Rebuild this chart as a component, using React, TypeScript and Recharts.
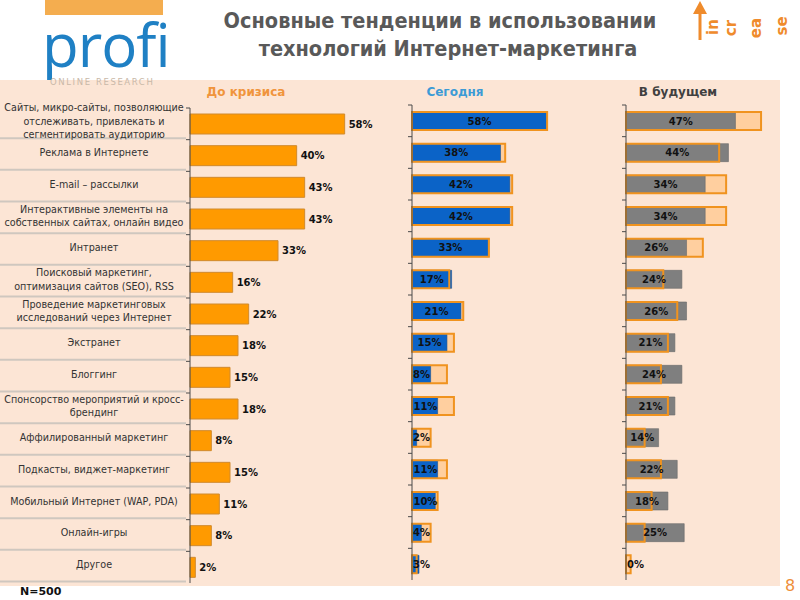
import React from "react";
import { BarChart, Bar, XAxis, YAxis, LabelList } from "recharts";

// Rows, top to bottom
const categories = [
  "Сайты, микро-сайты, позволяющие\nотслеживать, привлекать и\nсегментировать аудиторию",
  "Реклама в Интернете",
  "E-mail – рассылки",
  "Интерактивные элементы на\nсобственных сайтах, онлайн видео",
  "Интранет",
  "Поисковый маркетинг,\nоптимизация сайтов (SEO), RSS",
  "Проведение маркетинговых\nисследований через Интернет",
  "Экстранет",
  "Блоггинг",
  "Спонсорство мероприятий и кросс-\nбрендинг",
  "Аффилированный маркетинг",
  "Подкасты, виджет-маркетинг",
  "Мобильный Интернет (WAP, PDA)",
  "Онлайн-игры",
  "Другое",
];

// % of respondents
const beforeCrisis = [58, 40, 43, 43, 33, 16, 22, 18, 15, 18, 8, 15, 11, 8, 2];
const today = [58, 38, 42, 42, 33, 17, 21, 15, 8, 11, 2, 11, 10, 4, 3];
const future = [47, 44, 34, 34, 26, 24, 26, 21, 24, 21, 14, 22, 18, 25, 0];

const panelTitles = ["До кризиса", "Сегодня", "В будущем"];
const titleLines = [
  "Основные тенденции в использовании",
  "технологий Интернет-маркетинга",
];

const data = categories.map((name, i) => ({
  name,
  before: beforeCrisis[i],
  today: today[i],
  future: future[i],
}));

const FONT = "'DejaVu Sans', Verdana, sans-serif";
const TITLE_FONT = "'DejaVu Sans Condensed', 'DejaVu Sans', sans-serif";
const PEACH = "#fce5d5";
const ORANGE = "#ff9a00";
const OUTLINE = "#f0931f";
const PALE = "#ffcf9f";
const BLUE = "#0b63c7";
const GRAY = "#7f7f7f";
const AXIS = "#4a4a4a";

const H = 600;
const TOP1 = 108;
const BOTTOM1 = 17;
const TOP2 = 105;
const BOTTOM2 = 20;
const BAND = (H - TOP1 - BOTTOM1) / categories.length;

const pct = (v: number) => `${v}%`;

// left column: wrapped label + row separator + small tick on the axis
const CategoryTick = (props: any) => {
  const { y, payload } = props;
  const lines = String(payload.value).split("\n");
  const lh = 13.5;
  const y0 = y - 2.5 - ((lines.length - 1) * lh) / 2;
  return (
    <g>
      <line
        x1={0}
        x2={186}
        y1={y + BAND / 2 - 1.5}
        y2={y + BAND / 2 - 1.5}
        stroke="#cfc7bf"
        strokeWidth={2}
      />
      <line x1={186} x2={190} y1={y - BAND / 2} y2={y - BAND / 2} stroke={AXIS} />
      <text textAnchor="middle" fontFamily={FONT} fontSize={9.6} fill="#333">
        {lines.map((l, i) => (
          <tspan key={i} x={94} y={y0 + i * lh} dy="0.35em">
            {l}
          </tspan>
        ))}
      </text>
    </g>
  );
};

const BoundaryTick = (props: any) => {
  const { y } = props;
  return (
    <line x1={8} x2={12} y1={y - BAND / 2} y2={y - BAND / 2} stroke={AXIS} />
  );
};

// centred in the bar, or pushed to the left edge when it doesn't fit
const valueText = (x: number, w: number, y: number, value: number) => {
  const text = pct(value);
  const tw = text.length * 7.6;
  const cx = w > tw + 4 ? x + w / 2 : x + 2 + tw / 2;
  return (
    <text
      x={cx}
      y={y}
      dy="0.36em"
      textAnchor="middle"
      fontFamily={FONT}
      fontSize={10}
      fontWeight="bold"
      fill="#111"
    >
      {text}
    </text>
  );
};

const InsideLabel = (props: any) => {
  const { x, y, width, height, value } = props;
  return valueText(x, width, y + height / 2, value);
};

// attached to the pre-crisis outline bar so that a 0% forecast still gets its label;
// the forecast bar's length is taken from the same scale (px per % of that bar)
const FutureLabel = (props: any) => {
  const { x, y, width, height, value, index } = props;
  const base = beforeCrisis[index];
  const w = base ? (width * value) / base : 0;
  return valueText(x, w, y + height / 2, value);
};

function Decor() {
  return (
    <svg width={800} height={600} style={{ position: "absolute", left: 0, top: 0 }}>
      <rect x={45} y={0} width={118} height={15} fill="#f4ad4f" />
      <text
        x={42}
        y={67}
        fontFamily="'Open Sans', sans-serif"
        fontSize={60}
        letterSpacing={-1}
        fill="#1f80c4"
      >
        profi
      </text>
      <rect x={0} y={80} width={780} height={506} fill={PEACH} />
      <text
        x={50}
        y={85}
        fontFamily={FONT}
        fontSize={8.5}
        letterSpacing={1.6}
        fill="#c9b8a8"
      >
        ONLINE RESEARCH
      </text>

      <text
        x={440}
        y={28}
        textAnchor="middle"
        fontFamily={TITLE_FONT}
        fontSize={21.5}
        fontWeight="bold"
        fill="#595959"
      >
        {titleLines[0]}
      </text>
      <text
        x={448}
        y={56}
        textAnchor="middle"
        fontFamily={TITLE_FONT}
        fontSize={21.5}
        fontWeight="bold"
        fill="#595959"
      >
        {titleLines[1]}
      </text>

      {/* increase arrow */}
      <line x1={700} x2={700} y1={40} y2={10} stroke="#ef8b2c" strokeWidth={3} />
      <polygon points="693,14 700,1 707,14" fill="#ef8b2c" />
      {[
        ["in", 713, 27],
        ["cr", 731, 28],
        ["ea", 756, 28],
        ["se", 782, 26],
      ].map(([t, x, y]) => (
        <text
          key={t as string}
          transform={`translate(${x},${y}) rotate(-90)`}
          textAnchor="middle"
          dy="0.35em"
          fontFamily={FONT}
          fontSize={15}
          fontWeight="bold"
          fill="#ef8b2c"
        >
          {t}
        </text>
      ))}

      <text x={246} y={96} textAnchor="middle" fontFamily={FONT} fontSize={12} fontWeight="bold" fill="#f0943c">
        {panelTitles[0]}
      </text>
      <text x={455} y={96} textAnchor="middle" fontFamily={FONT} fontSize={12} fontWeight="bold" fill="#3c9bd6">
        {panelTitles[1]}
      </text>
      <text x={678} y={96} textAnchor="middle" fontFamily={FONT} fontSize={12} fontWeight="bold" fill="#404040">
        {panelTitles[2]}
      </text>

      <text x={20} y={595} fontFamily={FONT} fontSize={11} fontWeight="bold" fill="#111">
        N=500
      </text>
      <text x={790} y={591} textAnchor="middle" fontFamily={FONT} fontSize={16} fill="#ee8f3a">
        8
      </text>
    </svg>
  );
}

export default function App() {
  return (
    <div
      style={{
        position: "absolute",
        left: 0,
        top: 0,
        width: 800,
        height: 600,
        background: "#fff",
        overflow: "hidden",
      }}
    >
      <Decor />

      {/* До кризиса */}
      <div style={{ position: "absolute", left: 0, top: 0 }}>
        <BarChart
          width={390}
          height={H}
          data={data}
          layout="vertical"
          margin={{ top: TOP1, bottom: BOTTOM1, left: 0, right: 0 }}
          barSize={20}
        >
          <XAxis type="number" domain={[0, 75]} hide />
          <YAxis
            type="category"
            dataKey="name"
            width={190}
            interval={0}
            tickLine={false}
            axisLine={{ stroke: AXIS }}
            tick={(p: any) => <CategoryTick {...p} />}
          />
          <Bar
            dataKey="before"
            fill={ORANGE}
            stroke="#d08a2e"
            strokeWidth={1}
            isAnimationActive={false}
          >
            <LabelList
              dataKey="before"
              position="right"
              offset={4}
              formatter={(v: any) => pct(v)}
              style={{ fontFamily: FONT, fontSize: 10, fontWeight: "bold", fill: "#111" }}
            />
          </Bar>
        </BarChart>
      </div>

      {/* Сегодня */}
      <div style={{ position: "absolute", left: 400, top: 0 }}>
        <BarChart
          width={210}
          height={H}
          data={data}
          layout="vertical"
          margin={{ top: TOP2, bottom: BOTTOM2, left: 0, right: 0 }}
          barSize={18}
          barGap={-18}
        >
          <XAxis type="number" domain={[0, 85]} hide />
          <YAxis
            type="category"
            dataKey="name"
            width={12}
            interval={0}
            tickLine={false}
            axisLine={{ stroke: AXIS }}
            tick={(p: any) => <BoundaryTick {...p} />}
          />
          <Bar dataKey="before" fill={PALE} isAnimationActive={false} />
          <Bar
            dataKey="today"
            fill={BLUE}
            stroke="#1d4f8a"
            strokeWidth={0.6}
            isAnimationActive={false}
          >
            <LabelList dataKey="today" content={InsideLabel} />
          </Bar>
          <Bar
            dataKey="before"
            fill="none"
            stroke={OUTLINE}
            strokeWidth={2}
            isAnimationActive={false}
          />
        </BarChart>
      </div>

      {/* В будущем */}
      <div style={{ position: "absolute", left: 614, top: 0 }}>
        <BarChart
          width={175}
          height={H}
          data={data}
          layout="vertical"
          margin={{ top: TOP2, bottom: BOTTOM2, left: 0, right: 0 }}
          barSize={18}
          barGap={-18}
        >
          <XAxis type="number" domain={[0, 70]} hide />
          <YAxis
            type="category"
            dataKey="name"
            width={12}
            interval={0}
            tickLine={false}
            axisLine={{ stroke: AXIS }}
            tick={(p: any) => <BoundaryTick {...p} />}
          />
          <Bar dataKey="before" fill={PALE} isAnimationActive={false} />
          <Bar
            dataKey="future"
            fill={GRAY}
            stroke="#6a6a6a"
            strokeWidth={0.6}
            isAnimationActive={false}
          />
          <Bar
            dataKey="before"
            fill="none"
            stroke={OUTLINE}
            strokeWidth={2}
            isAnimationActive={false}
          >
            <LabelList dataKey="future" content={FutureLabel} />
          </Bar>
        </BarChart>
      </div>
    </div>
  );
}
